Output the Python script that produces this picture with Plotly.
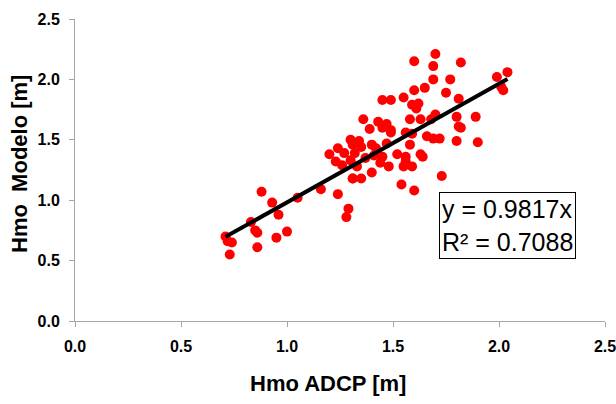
import plotly.graph_objects as go

hmo_adcp = [0.71, 0.72, 0.74, 0.73, 0.88, 0.93, 0.96, 0.83, 0.85, 0.86, 0.86, 0.95, 1.00, 1.05,
            1.16, 1.24, 1.29, 1.28, 1.20, 1.24, 1.23, 1.26, 1.30, 1.31, 1.27,
            1.70, 1.60, 1.82, 1.69, 1.69, 1.77, 1.65, 1.60, 1.75, 1.99, 2.04, 2.02, 2.01, 1.81,
            1.45, 1.49, 1.55, 1.59, 1.62, 1.61, 1.70, 1.58, 1.63, 1.68, 1.80, 1.89, 1.81, 1.82,
            1.36, 1.43, 1.47, 1.39, 1.45, 1.49, 1.49, 1.56, 1.59, 1.66, 1.69, 1.72, 1.80, 1.90,
            1.34, 1.31, 1.35, 1.40, 1.42, 1.47, 1.32, 1.30, 1.33, 1.37, 1.41, 1.45, 1.44, 1.48,
            1.52, 1.56, 1.58, 1.56, 1.59, 1.55, 1.63, 1.64, 1.40, 1.31, 1.35, 1.73, 1.54, 1.60]
hmo_modelo = [0.70, 0.66, 0.65, 0.55, 1.07, 0.98, 0.88, 0.82, 0.75, 0.73, 0.61, 0.69, 0.74, 1.02,
              1.09, 1.05, 0.93, 0.86, 1.38, 1.43, 1.32, 1.29, 1.50, 1.18, 1.39,
              2.21, 2.15, 2.14, 2.11, 2.00, 2.00, 1.93, 1.91, 1.89, 2.02, 2.06, 1.91, 1.94, 1.84,
              1.83, 1.83, 1.85, 1.79, 1.80, 1.76, 1.71, 1.67, 1.67, 1.67, 1.69, 1.69, 1.61, 1.60,
              1.67, 1.65, 1.63, 1.59, 1.60, 1.58, 1.56, 1.56, 1.55, 1.53, 1.51, 1.51, 1.49, 1.48,
              1.49, 1.46, 1.44, 1.46, 1.43, 1.47, 1.39, 1.33, 1.28, 1.35, 1.37, 1.36, 1.31, 1.28,
              1.38, 1.36, 1.46, 1.32, 1.28, 1.28, 1.38, 1.36, 1.23, 1.18, 1.18, 1.20, 1.13, 1.08]

slope = 0.9817
r2 = 0.7088
tick_vals = [0.0, 0.5, 1.0, 1.5, 2.0, 2.5]
tick_text = ["0.0", "0.5", "1.0", "1.5", "2.0", "2.5"]
x_title = "Hmo ADCP [m]"
y_title = "Hmo  Modelo [m]"

x_line = [min(hmo_adcp), max(hmo_adcp)]
y_line = [slope * v for v in x_line]

W, H = 616, 404
L, R, T, B = 75, 11, 19, 83

fig = go.Figure()
fig.add_trace(go.Scatter(x=hmo_adcp, y=hmo_modelo, mode="markers",
                         marker=dict(color="#ff0000", size=10, symbol="circle"),
                         showlegend=False))
fig.add_trace(go.Scatter(x=x_line, y=y_line, mode="lines",
                         line=dict(color="black", width=4), showlegend=False))

font_fam = "Liberation Sans Narrow, Arial Narrow, Liberation Sans, Arial, sans-serif"
axis_common = dict(range=[0, 2.5], tickvals=tick_vals, ticktext=tick_text,
                   showgrid=False, zeroline=False, showline=True, linecolor="#a6a6a6",
                   linewidth=1, ticks="outside", ticklen=5, tickcolor="#a6a6a6",
                   ticklabeloverflow="allow", automargin=False,
                   tickfont=dict(family=font_fam, size=16, color="black", weight="bold"))

fig.update_layout(
    width=W, height=H,
    margin=dict(l=L, r=R, t=T, b=B, autoexpand=False),
    plot_bgcolor="white", paper_bgcolor="white",
    xaxis=dict(**axis_common, ticklabelstandoff=6),
    yaxis=dict(**axis_common, ticklabelstandoff=6),
)

def px(xp):
    return (xp - L) / (W - L - R)

def py(yp):
    return (H - B - yp) / (H - T - B)

fig.add_annotation(x=px(328), y=py(383), xref="paper", yref="paper", showarrow=False,
                   text=x_title, xanchor="center", yanchor="middle",
                   font=dict(family=font_fam, size=22, color="black", weight="bold"))
fig.add_annotation(x=px(19), y=py(164), xref="paper", yref="paper", showarrow=False,
                   text=y_title, textangle=-90, xanchor="center", yanchor="middle",
                   font=dict(family=font_fam, size=22, color="black", weight="bold"))
fig.add_annotation(x=px(507.5), y=py(225.5), xref="paper", yref="paper", showarrow=False,
                   text=f"y = {slope}x<br>R² = {r2}", align="left",
                   xanchor="center", yanchor="middle",
                   font=dict(family="Liberation Sans, Arial, sans-serif", size=25, color="black"),
                   bordercolor="black", borderwidth=1, borderpad=2, bgcolor="white")
fig.write_html("out.html")
